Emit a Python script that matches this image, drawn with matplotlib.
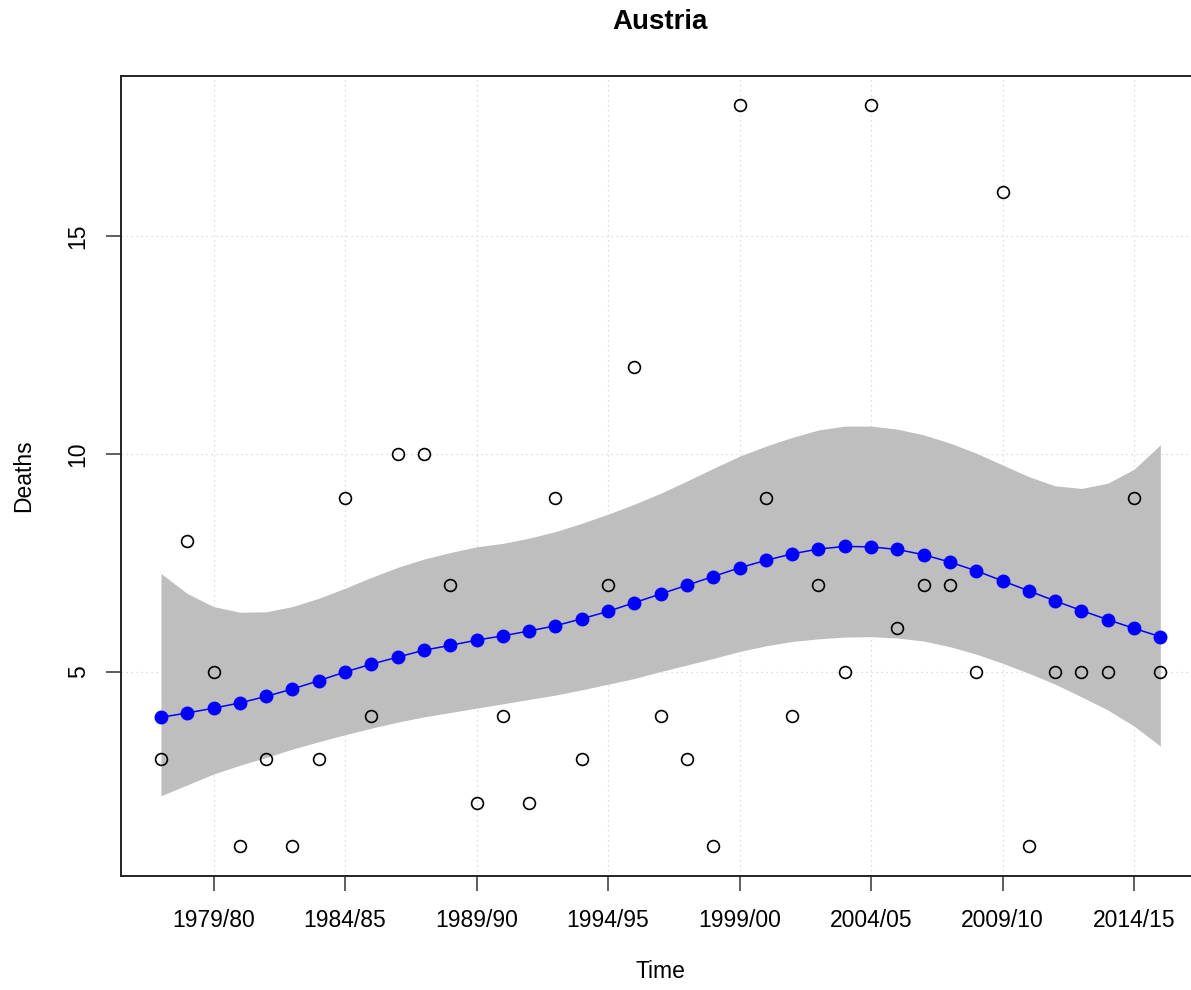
import numpy as np
import matplotlib
matplotlib.use("Agg")
import matplotlib.pyplot as plt

plt.rcParams['font.family'] = ['Liberation Sans', 'DejaVu Sans']

# seasons 1977/78 .. 2015/16
seasons = [f"{y}/{str(y + 1)[-2:]}" for y in range(1977, 2016)]

observed = [3, 8, 5, 1, 3, 1, 3, 9, 4, 10,
            10, 7, 2, 4, 2, 9, 3, 7, 12, 4,
            3, 1, 18, 9, 4, 7, 5, 18, 6, 7,
            7, 5, 16, 1, 5, 5, 5, 9, 5]

fitted = [3.96, 4.06, 4.17, 4.29, 4.44, 4.61, 4.80, 5.00, 5.18, 5.34,
          5.50, 5.61, 5.73, 5.83, 5.94, 6.06, 6.22, 6.39, 6.59, 6.79,
          6.99, 7.19, 7.39, 7.56, 7.71, 7.82, 7.88, 7.87, 7.81, 7.69,
          7.52, 7.32, 7.09, 6.86, 6.63, 6.41, 6.20, 6.00, 5.81]

upper = [7.26, 6.80, 6.50, 6.37, 6.38, 6.50, 6.69, 6.92, 7.17, 7.40,
         7.59, 7.74, 7.87, 7.95, 8.07, 8.22, 8.41, 8.62, 8.85, 9.10,
         9.38, 9.67, 9.95, 10.18, 10.38, 10.55, 10.64, 10.64, 10.57, 10.44,
         10.25, 10.02, 9.75, 9.48, 9.27, 9.21, 9.33, 9.65, 10.21]

lower = [2.16, 2.41, 2.66, 2.86, 3.04, 3.23, 3.40, 3.56, 3.71, 3.85,
         3.97, 4.07, 4.17, 4.27, 4.37, 4.47, 4.59, 4.72, 4.85, 5.01,
         5.16, 5.31, 5.47, 5.60, 5.70, 5.76, 5.80, 5.81, 5.78, 5.71,
         5.58, 5.41, 5.20, 4.97, 4.72, 4.43, 4.13, 3.76, 3.30]

x_ticks = [2, 7, 12, 17, 22, 27, 32, 37]
y_ticks = [5, 10, 15]

W, H = 1191, 990
fig = plt.figure(figsize=(W / 100, H / 100), dpi=100)

# R-style box; the right edge falls just outside the image like the original
left, right, top, bottom = 121, 1200.3, 75.6, 876
ax = fig.add_axes([left / W, 1 - bottom / H, (right - left) / W, (bottom - top) / H])

x = np.arange(len(seasons))
n = len(seasons)
ax.set_xlim(-0.04 * (n - 1), (n - 1) * 1.04)
ax.set_ylim(1 - 0.04 * 17, 18 + 0.04 * 17)

for t in x_ticks:
    ax.axvline(t, color='#d3d3d3', lw=0.9, ls=(0, (1, 3)), zorder=0)
for t in y_ticks:
    ax.axhline(t, color='#d3d3d3', lw=0.9, ls=(0, (1, 3)), zorder=0)

ax.fill_between(x, lower, upper, color='#bebebe', lw=0, zorder=1)
ax.plot(x, fitted, color='#0000ff', lw=1.1, marker='o', ms=9,
        mfc='#0000ff', mec='#0000ff', zorder=2)
ax.plot(x, observed, ls='none', marker='o', ms=8.5, mfc='none',
        mec='black', mew=1.2, zorder=3)

ax.set_xticks(x_ticks)
ax.set_xticklabels([seasons[i] for i in x_ticks])
ax.set_yticks(y_ticks)
ax.set_yticklabels([str(v) for v in y_ticks], rotation=90, va='center')
ax.tick_params(axis='both', direction='out', length=10.5, width=1.1,
               color='#333333', labelsize=16.5)
ax.tick_params(axis='x', pad=13)
ax.tick_params(axis='y', pad=12)

for s in ax.spines.values():
    s.set_linewidth(1.4)
    s.set_color('#222222')

fig.text(660 / W, 1 - 22 / H, 'Austria', ha='center', va='center',
         fontsize=20, fontweight='bold')
fig.text(660 / W, 1 - 972 / H, 'Time', ha='center', va='center', fontsize=16.5)
fig.text(24 / W, 1 - 476 / H, 'Deaths', ha='center', va='center',
         fontsize=16.5, rotation=90)

fig.savefig('out.png', dpi=100)
